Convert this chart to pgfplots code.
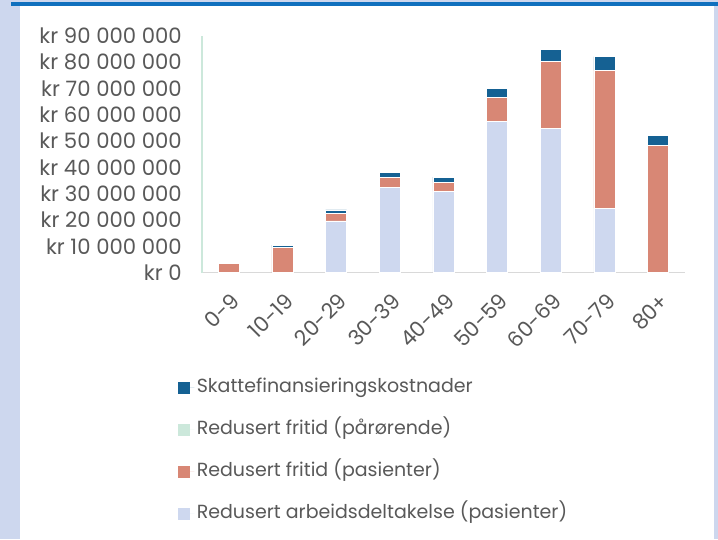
\documentclass[border=0pt]{standalone}
\usepackage{pgfplots}
\pgfplotsset{compat=1.18}
\usepackage{fontspec}
\setmainfont{Poppins}
\definecolor{bgblue}{HTML}{CDD7EE}
\definecolor{topblue}{HTML}{1070BE}
\definecolor{skatt}{HTML}{156193}
\definecolor{pasfri}{HTML}{D88775}
\definecolor{parfri}{HTML}{CCE8DB}
\definecolor{arb}{HTML}{CED8EF}
\definecolor{txt}{HTML}{595959}
\definecolor{xline}{HTML}{D9D9D9}
\begin{document}
\begin{tikzpicture}[x=1pt,y=1pt]
\fill[bgblue] (0,0) rectangle (718,539);
\fill[white] (20,0) rectangle (714,533);
\fill[topblue] (11,533) rectangle (718,536.5);
\useasboundingbox (0,0) rectangle (718,539);
\begin{axis}[
  at={(202pt,266.5pt)}, anchor=south west,
  scale only axis, width=483pt, height=236.5pt,
  xmin=-0.5, xmax=8.5, ymin=0, ymax=90000000,
  scaled y ticks=false,
  ybar stacked, bar width=21pt,
  axis x line=bottom, axis y line=left,
  x axis line style={draw=xline, line width=1.7pt, -},
  y axis line style={draw=parfri, line width=1.5pt, -},
  major tick length=0pt,
  ytick={0,10000000,20000000,30000000,40000000,50000000,60000000,70000000,80000000,90000000},
  yticklabels={kr 0,kr 10 000 000,kr 20 000 000,kr 30 000 000,kr 40 000 000,kr 50 000 000,kr 60 000 000,kr 70 000 000,kr 80 000 000,kr 90 000 000},
  yticklabel style={font=\fontsize{21.2}{24}\selectfont, text=txt, inner sep=0pt, anchor=east, xshift=-20pt},
  xtick={0,1,2,3,4,5,6,7,8},
  xticklabels={0-9,10-19,20-29,30-39,40-49,50-59,60-69,70-79,80+},
  xticklabel style={font=\fontsize{21.2}{24}\selectfont, text=txt, inner sep=0pt, xshift=1pt, yshift=-19pt, rotate=45, anchor=north east},
  reverse legend,
  legend cell align=left,
  legend style={at={(axis description cs:-0.056,-0.43)}, anchor=north west, draw=none, fill=none,
    font=\fontsize{19}{22}\selectfont, text=txt, row sep=19pt,
    nodes={text height=14pt, text depth=5pt, inner sep=2pt}},
  legend image code/.code={\path (0pt,0pt) -- (16pt,0pt);\fill[#1,draw=none] (0pt,-6pt) rectangle (12pt,6pt);},
  every axis plot/.append style={draw=white, line width=0.6pt},
]
\addplot[fill=arb] coordinates {(0,0) (1,0) (2,19600000) (3,32500000) (4,31000000) (5,57500000) (6,54800000) (7,24500000) (8,0)};
\addlegendentry{Redusert arbeidsdeltakelse (pasienter)}
\addplot[fill=pasfri] coordinates {(0,3400000) (1,9500000) (2,3000000) (3,3700000) (4,3400000) (5,9200000) (6,25600000) (7,52500000) (8,48500000)};
\addlegendentry{Redusert fritid (pasienter)}
\addplot[fill=parfri] coordinates {(0,0) (1,0) (2,0) (3,0) (4,0) (5,0) (6,0) (7,0) (8,0)};
\addlegendentry{Redusert fritid (pårørende)}
\addplot[fill=skatt] coordinates {(0,400000) (1,900000) (2,1200000) (3,2000000) (4,1900000) (5,3300000) (6,4500000) (7,5200000) (8,3600000)};
\addlegendentry{Skattefinansieringskostnader}
\end{axis}
\end{tikzpicture}
\end{document}
